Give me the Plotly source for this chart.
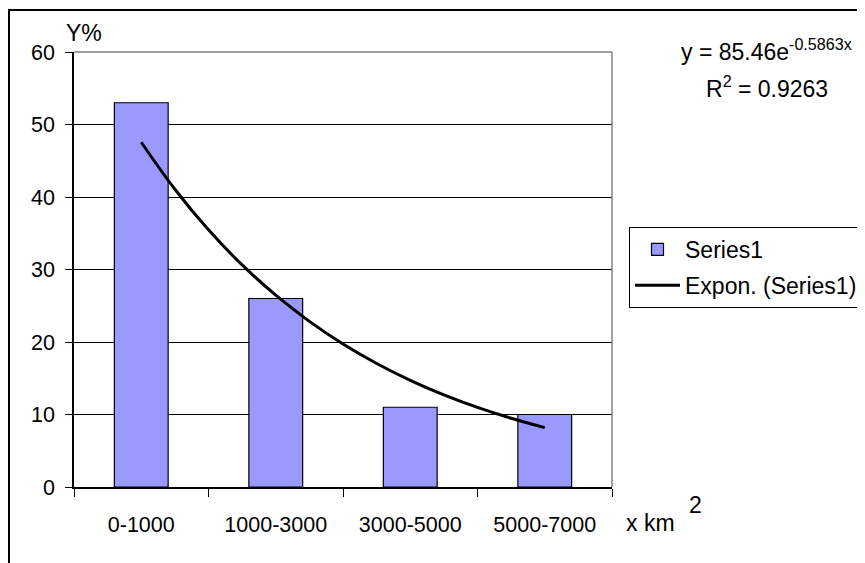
import plotly.graph_objects as go

categories = ["0-1000", "1000-3000", "3000-5000", "5000-7000"]
series1 = [53, 26, 11, 10]

# Exponential trendline (Expon. (Series1)) sampled along the category axis
trend_x = [1, 1.25, 1.5, 1.75, 2, 2.25, 2.5, 2.75, 3, 3.25, 3.5, 3.75, 4]
trend_y = [47.55, 41.07, 35.47, 30.63, 26.46, 22.85, 19.73, 17.04, 14.72, 12.71, 10.98, 9.48, 8.19]

equation_text = "y = 85.46e<sup>-0.5863x</sup>"
r2_text = "R<sup>2</sup> = 0.9263"

FONT = "Liberation Sans, Arial, sans-serif"
# page body adds an 8px offset; layout below is in reference pixel coordinates
OFF = 8
W, H = 865 - OFF, 563 - OFF
PX0, PX1, PY0, PY1 = 74, 612, 52, 487  # plot area in reference pixels
L, T = PX0 - OFF, PY0 - OFF
R, B = W - (PX1 - OFF), H - (PY1 - OFF)
PW = PX1 - PX0
PH = PY1 - PY0

def px(x):
    return (x - PX0) / PW

def py(y):
    return (PY1 - y) / PH

pos = list(range(1, len(categories) + 1))

fig = go.Figure()
fig.add_trace(go.Bar(
    x=pos, y=series1, name="Series1", width=0.4,
    marker=dict(color="#9999FF", line=dict(color="black", width=1.2)),
    legendgroup="a",
))
fig.add_trace(go.Scatter(
    x=trend_x, y=trend_y, mode="lines", name="Expon. (Series1)",
    line=dict(color="black", width=3, shape="spline"),
    legendgroup="b",
))

fig.update_layout(
    width=W, height=H,
    margin=dict(l=L, r=R, t=T, b=B, autoexpand=False),
    paper_bgcolor="white", plot_bgcolor="white",
    font=dict(family=FONT, size=21.5, color="black"),
    showlegend=True,
    legend=dict(
        x=px(629), y=py(227), xanchor="left", yanchor="top",
        bordercolor="black", borderwidth=1, bgcolor="white",
        font=dict(size=23), tracegroupgap=3, traceorder="grouped",
        itemwidth=45,
    ),
    xaxis=dict(
        range=[0.5, 4.5], tickmode="array", tickvals=pos, ticktext=categories,
        ticks="outside", ticklen=8, tickcolor="rgba(0,0,0,0)",
        showline=True, linecolor="black", linewidth=1.5,
        showgrid=False, zeroline=False,
        ticklabelstandoff=9,
        minor=dict(tick0=0.5, dtick=1, ticks="outside", ticklen=8,
                   tickcolor="black", showgrid=False),
    ),
    yaxis=dict(
        range=[0, 60], tickmode="linear", tick0=0, dtick=10,
        ticks="outside", ticklen=7, tickcolor="black",
        showline=True, linecolor="black", linewidth=1.5,
        showgrid=True, gridcolor="black", gridwidth=1.2,
        zeroline=False, ticklabelstandoff=6,
    ),
    shapes=[
        # plot area border (top and right, gray)
        dict(type="line", xref="paper", yref="paper", x0=0, x1=1, y0=1, y1=1,
             line=dict(color="#808080", width=1.5)),
        dict(type="line", xref="paper", yref="paper", x0=1, x1=1, y0=0, y1=1,
             line=dict(color="#808080", width=1.5)),
        # chart area border
        dict(type="rect", xref="paper", yref="paper",
             x0=px(9), x1=px(880), y0=py(580), y1=py(10),
             line=dict(color="black", width=2), fillcolor="rgba(0,0,0,0)"),
    ],
    annotations=[
        dict(text="Y%", xref="paper", yref="paper", x=px(64), y=py(33),
             xanchor="left", yanchor="middle", showarrow=False, font=dict(size=23)),
        dict(text="x km", xref="paper", yref="paper", x=px(624), y=py(523),
             xanchor="left", yanchor="middle", showarrow=False, font=dict(size=23)),
        dict(text="2", xref="paper", yref="paper", x=px(687), y=py(505),
             xanchor="left", yanchor="middle", showarrow=False, font=dict(size=23)),
        dict(text=equation_text, xref="paper", yref="paper", x=px(766), y=py(50),
             xanchor="center", yanchor="middle", showarrow=False, font=dict(size=23)),
        dict(text=r2_text, xref="paper", yref="paper", x=px(767), y=py(87),
             xanchor="center", yanchor="middle", showarrow=False, font=dict(size=23)),
    ],
)

fig.write_html("out.html")
